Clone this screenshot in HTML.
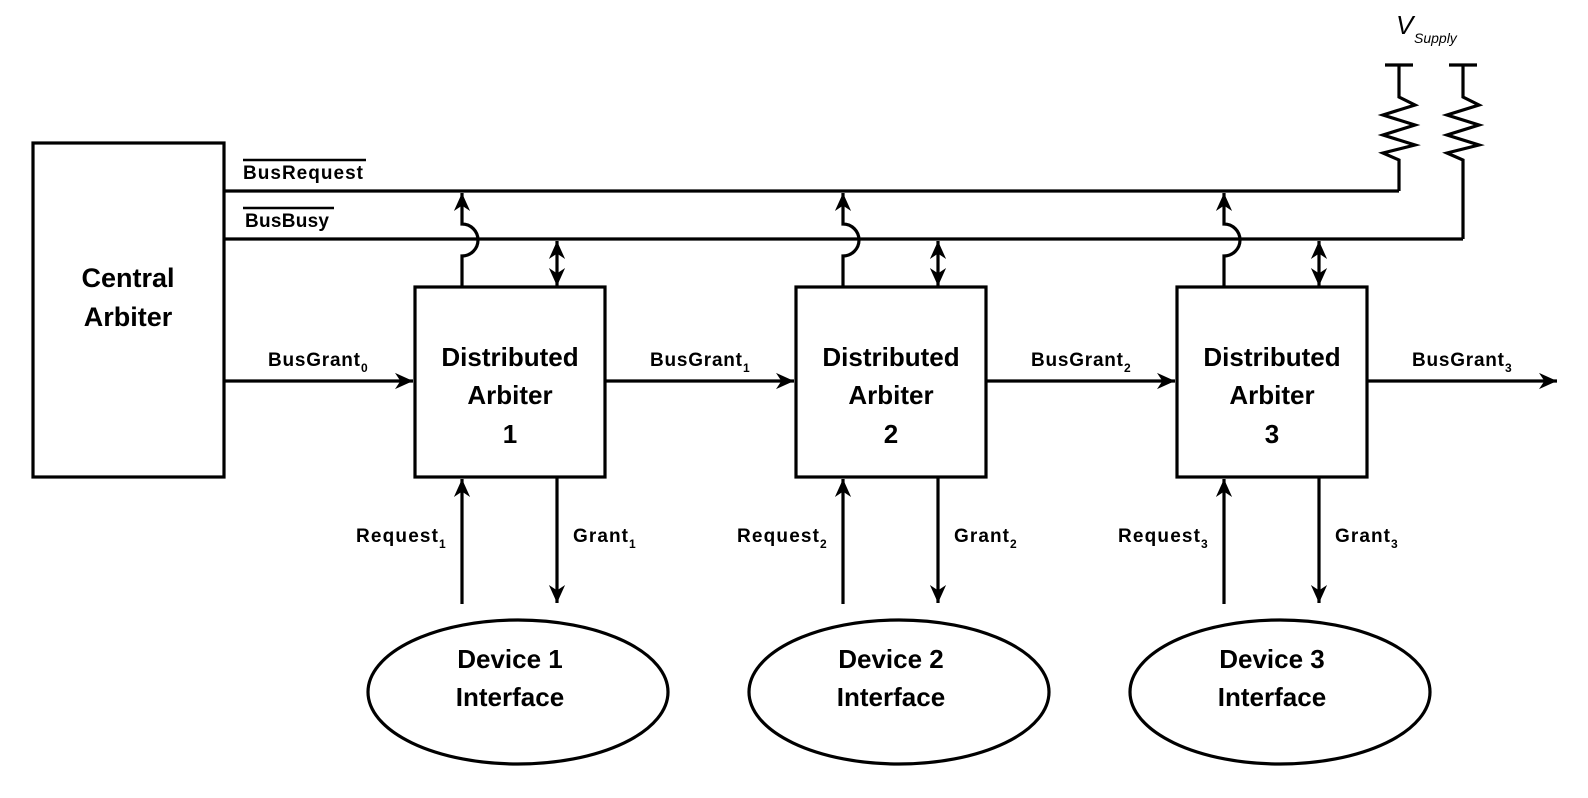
<!DOCTYPE html>
<html><head><meta charset="utf-8"><style>
html,body{margin:0;padding:0;background:#fff;}
svg{display:block;}
text{font-family:"Liberation Sans",sans-serif;font-weight:bold;fill:#000;}
</style></head><body>
<svg width="1588" height="798" viewBox="0 0 1588 798" xmlns="http://www.w3.org/2000/svg">
<defs>
<marker id="ah" viewBox="0 0 10 10" refX="10" refY="5" markerWidth="18" markerHeight="18" markerUnits="userSpaceOnUse" orient="auto-start-reverse">
<path d="M0,0.5 L10,5 L0,9.5 L3,5 z" fill="#000"/>
</marker>
</defs>
<g stroke="#000" stroke-width="3.2" fill="none">
<rect x="33" y="143" width="191" height="334"/>
<line x1="224" y1="191" x2="1399" y2="191"/>
<line x1="224" y1="239" x2="1463" y2="239"/>
<line x1="1385" y1="65" x2="1413" y2="65"/>
<path d="M1399,65 V97 L1415,105 L1383,115 L1415,125 L1383,135 L1415,145 L1383,153 L1399,160 V191"/>
<line x1="1449" y1="65" x2="1477" y2="65"/>
<path d="M1463,65 V97 L1479,105 L1447,115 L1479,125 L1447,135 L1479,145 L1447,153 L1463,160 V239"/>
<line x1="224" y1="381" x2="413" y2="381" marker-end="url(#ah)"/>
</g>
<g id="b1" stroke="#000" stroke-width="3.2" fill="none">
<rect x="415" y="287" width="190" height="190"/>
<path d="M462,287 V256 A16,16 0 0 0 462,224 V193" marker-end="url(#ah)"/>
<line x1="557" y1="286" x2="557" y2="241" marker-start="url(#ah)" marker-end="url(#ah)"/>
<line x1="462" y1="604" x2="462" y2="479" marker-end="url(#ah)"/>
<line x1="557" y1="477" x2="557" y2="603" marker-end="url(#ah)"/>
<ellipse cx="518" cy="692" rx="150" ry="72"/>
</g>
<use href="#b1" x="381"/>
<use href="#b1" x="762"/>
<g stroke="#000" stroke-width="3.2">
<line x1="605" y1="381" x2="794" y2="381" marker-end="url(#ah)"/>
<line x1="986" y1="381" x2="1175" y2="381" marker-end="url(#ah)"/>
<line x1="1367" y1="381" x2="1557" y2="381" marker-end="url(#ah)"/>
<line x1="243" y1="160" x2="366" y2="160" stroke-width="2.5"/>
<line x1="243" y1="208" x2="334" y2="208" stroke-width="2.5"/>
</g>
<text x="1396" y="34" font-size="26" font-style="italic" style="font-weight:normal">V</text>
<text x="1414" y="43" font-size="14" font-style="italic" style="font-weight:normal">Supply</text>
<text x="243" y="179" font-size="19" textLength="120">BusRequest</text>
<text x="245" y="227" font-size="19" textLength="84">BusBusy</text>
<text x="128" y="287" font-size="27" text-anchor="middle">Central</text>
<text x="128" y="326" font-size="27" text-anchor="middle">Arbiter</text>
<g font-size="19">
<text x="268" y="366" textLength="92">BusGrant</text><text x="361" y="372" font-size="12">0</text>
<text x="650" y="366" textLength="92">BusGrant</text><text x="743" y="372" font-size="12">1</text>
<text x="1031" y="366" textLength="92">BusGrant</text><text x="1124" y="372" font-size="12">2</text>
<text x="1412" y="366" textLength="92">BusGrant</text><text x="1505" y="372" font-size="12">3</text>
<text x="356" y="542" textLength="82">Request</text><text x="439" y="548" font-size="12">1</text>
<text x="573" y="542" textLength="55">Grant</text><text x="629" y="548" font-size="12">1</text>
<text x="737" y="542" textLength="82">Request</text><text x="820" y="548" font-size="12">2</text>
<text x="954" y="542" textLength="55">Grant</text><text x="1010" y="548" font-size="12">2</text>
<text x="1118" y="542" textLength="82">Request</text><text x="1201" y="548" font-size="12">3</text>
<text x="1335" y="542" textLength="55">Grant</text><text x="1391" y="548" font-size="12">3</text>
</g>
<g font-size="26" text-anchor="middle">
<text x="510" y="366">Distributed</text><text x="510" y="404">Arbiter</text><text x="510" y="443">1</text>
<text x="891" y="366">Distributed</text><text x="891" y="404">Arbiter</text><text x="891" y="443">2</text>
<text x="1272" y="366">Distributed</text><text x="1272" y="404">Arbiter</text><text x="1272" y="443">3</text>
<text x="510" y="668">Device 1</text><text x="510" y="706">Interface</text>
<text x="891" y="668">Device 2</text><text x="891" y="706">Interface</text>
<text x="1272" y="668">Device 3</text><text x="1272" y="706">Interface</text>
</g>
</svg>
</body></html>
